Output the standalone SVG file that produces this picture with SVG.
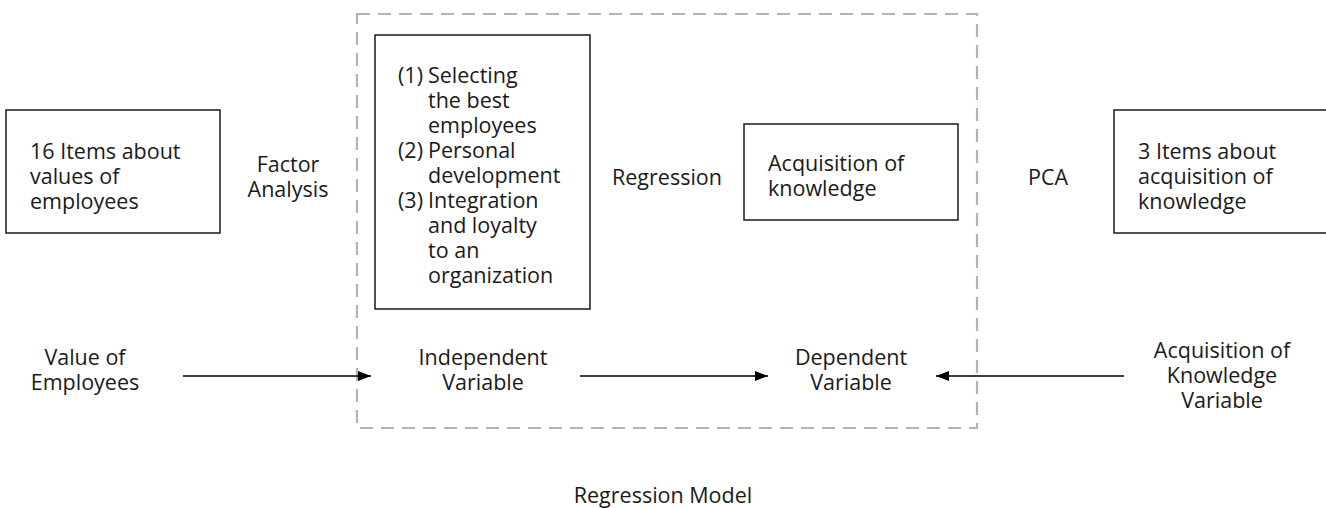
<svg xmlns="http://www.w3.org/2000/svg" width="1326" height="508" viewBox="0 0 1326 508">
<style>
text{font-family:"Open Sans","Noto Sans","Liberation Sans",sans-serif;font-size:21.5px;fill:#1a1a1a}
.c{text-anchor:middle}
.box{fill:#fff;stroke:#1a1a1a;stroke-width:1.5}
.frame{fill:none;stroke:#b3b3b3;stroke-width:2.2;stroke-dasharray:13 8}
.conn{stroke:#000;stroke-width:1.5;fill:none}
</style>
<defs>
<marker id="ah" viewBox="0 0 13 10" refX="13" refY="5" markerWidth="13" markerHeight="10" markerUnits="userSpaceOnUse" orient="auto">
<path d="M0,0 L13,5 L0,10 Z" fill="#000"/>
</marker>
</defs>
<rect class="frame" x="357" y="14" width="620" height="414"/>
<g id="items16">
<rect class="box" x="6" y="110" width="214" height="123"/>
<text x="30" y="159">16 Items about</text>
<text x="30" y="184">values of</text>
<text x="30" y="209">employees</text>
</g>
<g id="factor-analysis">
<text class="c" x="288" y="172">Factor</text>
<text class="c" x="288" y="197">Analysis</text>
</g>
<g id="factors">
<rect class="box" x="375" y="35" width="215" height="274"/>
<text x="398" y="83">(1)</text><text x="428" y="83">Selecting</text>
<text x="428" y="108">the best</text>
<text x="428" y="133">employees</text>
<text x="398" y="158">(2)</text><text x="428" y="158">Personal</text>
<text x="428" y="183">development</text>
<text x="398" y="208">(3)</text><text x="428" y="208">Integration</text>
<text x="428" y="233">and loyalty</text>
<text x="428" y="258">to an</text>
<text x="428" y="283">organization</text>
</g>
<g id="regression">
<text class="c" x="667" y="185">Regression</text>
</g>
<g id="acq">
<rect class="box" x="744" y="124" width="214" height="96"/>
<text x="768" y="171">Acquisition of</text>
<text x="768" y="196">knowledge</text>
</g>
<g id="pca">
<text class="c" x="1048" y="185">PCA</text>
</g>
<g id="items3">
<rect class="box" x="1114" y="110" width="220" height="123"/>
<text x="1138" y="159">3 Items about</text>
<text x="1138" y="184">acquisition of</text>
<text x="1138" y="209">knowledge</text>
</g>
<g id="value-emp">
<text class="c" x="85" y="365">Value of</text>
<text class="c" x="85" y="390">Employees</text>
</g>
<g id="indep">
<text class="c" x="483" y="365">Independent</text>
<text class="c" x="483" y="390">Variable</text>
</g>
<g id="dep">
<text class="c" x="851" y="365">Dependent</text>
<text class="c" x="851" y="390">Variable</text>
</g>
<g id="acq-var">
<text class="c" x="1222" y="358">Acquisition of</text>
<text class="c" x="1222" y="383">Knowledge</text>
<text class="c" x="1222" y="408">Variable</text>
</g>
<g id="model-label">
<text class="c" x="663" y="503">Regression Model</text>
</g>
<g id="connectors">
<line class="conn" x1="183" y1="376" x2="371" y2="376" marker-end="url(#ah)"/>
<line class="conn" x1="580" y1="376" x2="768" y2="376" marker-end="url(#ah)"/>
<line class="conn" x1="1124" y1="376" x2="936" y2="376" marker-end="url(#ah)"/>
</g>
</svg>
